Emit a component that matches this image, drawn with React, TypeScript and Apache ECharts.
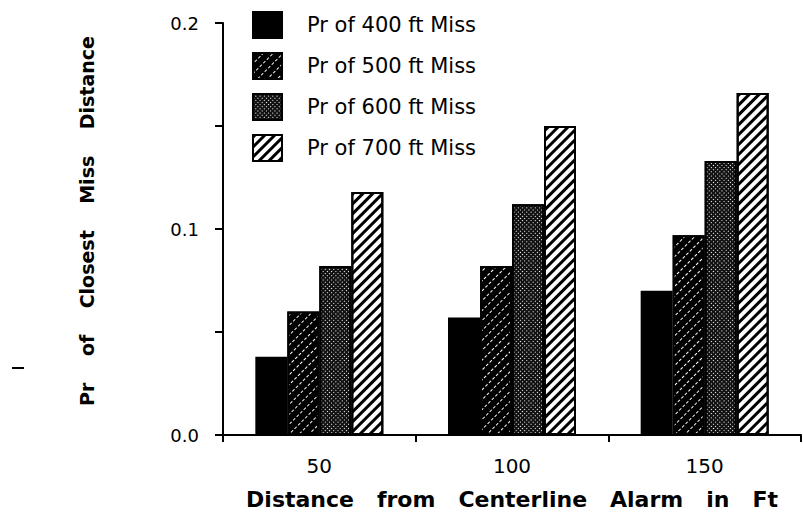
import React, { useEffect, useRef } from "react";
import * as echarts from "echarts";

const categories = ["50", "100", "150"];
const seriesNames = ["Pr of 400 ft Miss", "Pr of 500 ft Miss", "Pr of 600 ft Miss", "Pr of 700 ft Miss"];
const miss400 = [0.038, 0.057, 0.07];
const miss500 = [0.06, 0.082, 0.097];
const miss600 = [0.082, 0.112, 0.133];
const miss700 = [0.118, 0.15, 0.166];
const yTicks = [0, 0.05, 0.1, 0.15, 0.2];

export default function App() {
  const ref = useRef<HTMLDivElement>(null);
  useEffect(() => {
    document.body.style.margin = "0";
    if (!ref.current) return;
    const chart = echarts.init(ref.current, undefined, { renderer: "svg" });
    const border = { borderColor: "#000", borderWidth: 2 };
    const styles: any[] = [
      { color: "#000", ...border },
      {
        color: "#000",
        ...border,
        decal: {
          symbol: "rect",
          symbolSize: 1,
          color: "#fff",
          dashArrayX: [[3, 2]],
          dashArrayY: [1, 5.5],
          rotation: -Math.PI / 4,
        },
      },
      {
        color: "#111",
        ...border,
        decal: {
          symbol: "rect",
          symbolSize: 1,
          color: "#fff",
          dashArrayX: [[1, 1.8]],
          dashArrayY: [1, 1.8],
          rotation: -Math.PI / 4,
        },
      },
      {
        color: "#fff",
        ...border,
        decal: {
          symbol: "rect",
          symbolSize: 1,
          color: "#000",
          dashArrayX: [1, 0],
          dashArrayY: [2.8, 3.6],
          rotation: -Math.PI / 4,
        },
      },
    ];
    const dataSets = [miss400, miss500, miss600, miss700];
    chart.setOption({
      animation: false,
      backgroundColor: "#fff",
      grid: { left: 223, right: 2, top: 23, bottom: 85 },
      legend: {
        orient: "vertical",
        left: 252,
        top: 11,
        padding: 0,
        icon: "rect",
        itemWidth: 29,
        itemHeight: 26,
        itemGap: 13,
        data: seriesNames,
        textStyle: {
          fontFamily: "DejaVu Sans",
          fontSize: 21,
          lineHeight: 26,
          color: "#000",
          padding: [0, 0, 0, 20],
        },
      },
      xAxis: {
        type: "category",
        data: categories,
        name: "Distance   from   Centerline   Alarm   in   Ft",
        nameLocation: "middle",
        nameGap: 53,
        nameTextStyle: {
          fontFamily: "DejaVu Sans",
          fontWeight: "bold",
          fontSize: 22,
          color: "#000",
        },
        axisLine: { lineStyle: { color: "#000", width: 2 } },
        axisTick: { show: true, length: 7, lineStyle: { color: "#000", width: 2 } },
        axisLabel: {
          margin: 21,
          fontFamily: "DejaVu Sans",
          fontSize: 20,
          color: "#000",
        },
      },
      yAxis: {
        type: "value",
        min: 0,
        max: 0.2,
        interval: 0.05,
        name: "Pr    of    Closest    Miss    Distance",
        nameLocation: "middle",
        nameGap: 127,
        nameTextStyle: {
          fontFamily: "DejaVu Sans",
          fontWeight: "bold",
          fontSize: 19,
          color: "#000",
          padding: [0, 0, 0, 16],
        },
        splitLine: { show: false },
        axisLine: { show: true, lineStyle: { color: "#000", width: 2 } },
        axisTick: { show: true, length: 8, lineStyle: { color: "#000", width: 2 } },
        axisLabel: {
          margin: 24,
          fontFamily: "DejaVu Sans",
          fontSize: 18,
          color: "#000",
          formatter: (v: number) => {
            const t = yTicks.find((x) => Math.abs(x - v) < 1e-9);
            if (t === undefined) return "";
            return Math.abs(t * 10 - Math.round(t * 10)) < 1e-9 ? t.toFixed(1) : "";
          },
        },
      },
      series: dataSets.map((d, i) => ({
        name: seriesNames[i],
        type: "bar",
        data: d,
        barWidth: 32,
        barGap: "0%",
        itemStyle: styles[i],
      })),
      graphic: [
        {
          type: "line",
          shape: { x1: 12, y1: 368, x2: 24, y2: 368 },
          style: { stroke: "#000", lineWidth: 2 },
        },
      ],
    });
    return () => chart.dispose();
  }, []);
  return <div ref={ref} style={{ width: 803, height: 520 }} />;
}
